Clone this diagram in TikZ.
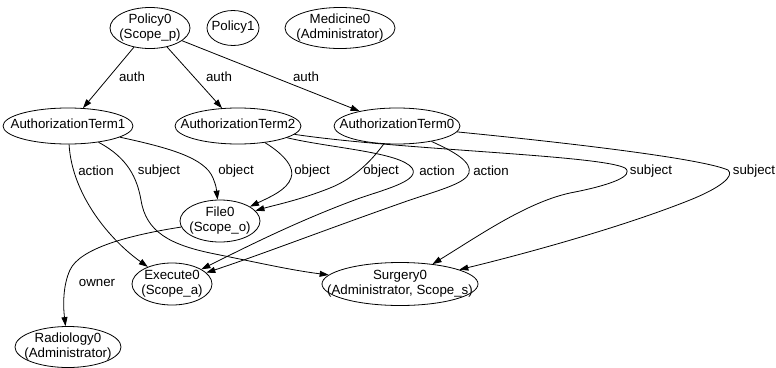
\documentclass[tikz,border=0pt]{standalone}
\usepackage{fontspec}
\setmainfont{Liberation Sans}
\usetikzlibrary{shapes.geometric, arrows.meta}

\newcommand{\ctext}[1]{\makebox[0pt]{\begin{tabular}{@{}c@{}}#1\end{tabular}}}

\tikzset{
	entity/.style={draw, ellipse, inner sep=0pt, line width=0.8pt},
	rel/.style={->, line width=0.8pt},
}

\begin{document}
\begin{tikzpicture}[x=1pt, y=-1pt, font=\fontsize{13.3}{14.5}\selectfont,
		>={Triangle[length=9pt,width=6pt]}]
	\useasboundingbox (0,0) rectangle (776,367);

	\draw
		(150,28) node[entity, minimum width=80pt, minimum height=40pt] (policy0) {\ctext{Policy0\\(Scope\_p)}}
		(233,28) node[entity, minimum width=52pt, minimum height=35pt] (policy1) {\ctext{Policy1}}
		(340,28) node[entity, minimum width=110pt, minimum height=41pt] (medicine0) {\ctext{Medicine0\\(Administrator)}}

		(68,126) node[entity, minimum width=130pt, minimum height=36pt] (term1) {\ctext{AuthorizationTerm1}}
		(238,126) node[entity, minimum width=126pt, minimum height=36pt] (term2) {\ctext{AuthorizationTerm2}}
		(397,126) node[entity, minimum width=126pt, minimum height=36pt] (term0) {\ctext{AuthorizationTerm0}}

		(220,221) node[entity, minimum width=80pt, minimum height=42pt] (file0) {\ctext{File0\\(Scope\_o)}}
		(172,284) node[entity, minimum width=80pt, minimum height=42pt] (execute0) {\ctext{Execute0\\(Scope\_a)}}
		(400,284) node[entity, minimum width=156pt, minimum height=43pt] (surgery0) {\ctext{Surgery0\\(Administrator, Scope\_s)}}
		(68,347) node[entity, minimum width=106pt, minimum height=40pt] (radiology0) {\ctext{Radiology0\\(Administrator)}};

	% auth
	\draw[rel] (policy0) -- (term1);
	\draw[rel] (policy0) -- (term2);
	\draw[rel] (policy0) -- (term0);

	% AuthorizationTerm1
	\draw[rel] (term1) .. controls (72,195) and (110,240) .. (execute0);
	\draw[rel] (term1) .. controls (128,158) and (137,178) .. (141,200)
		.. controls (146,232) and (170,245) .. (215,254)
		.. controls (260,263) and (290,270) .. (surgery0);
	\draw[rel] (term1) .. controls (170,148) and (205,158) .. (213,178)
		.. controls (216,186) .. (file0);

	% AuthorizationTerm2
	\draw[rel] (term2) .. controls (285,155) and (295,168) .. (291,178)
		.. controls (287,190) and (270,197) .. (file0);
	\draw[rel] (term2) .. controls (330,148) and (400,152) .. (412,168)
		.. controls (420,180) and (390,188) .. (360,198)
		.. controls (300,220) and (250,245) .. (execute0);
	\draw[rel] (term2) .. controls (400,150) and (600,155) .. (625,168)
		.. controls (635,176) and (610,185) .. (575,192)
		.. controls (530,200) and (480,235) .. (surgery0);

	% AuthorizationTerm0
	\draw[rel] (term0) .. controls (372,160) and (355,178) .. (330,188)
		.. controls (300,200) and (275,205) .. (file0);
	\draw[rel] (term0) .. controls (455,152) and (472,162) .. (469,173)
		.. controls (466,183) and (440,190) .. (410,200)
		.. controls (330,228) and (260,255) .. (execute0);
	\draw[rel] (term0) .. controls (560,142) and (700,158) .. (728,170)
		.. controls (735,176) and (720,188) .. (690,200)
		.. controls (620,228) and (520,255) .. (surgery0);

	% owner
	\draw[rel] (file0) .. controls (130,235) and (80,248) .. (70,270)
		.. controls (63,285) and (63,305) .. (radiology0);

	\draw
		(132,77) node (auth1) {auth}
		(219,77) node (auth2) {auth}
		(306,77) node (auth0) {auth}
		(96,171) node (action1) {action}
		(159,171) node (subject1) {subject}
		(236,171) node (object1) {object}
		(312,171) node (object2) {object}
		(381,171) node (object0) {object}
		(437,171) node (action2) {action}
		(491,171) node (action0) {action}
		(651,171) node (subject2) {subject}
		(754,171) node (subject0) {subject}
		(97,283) node (owner) {owner};
\end{tikzpicture}
\end{document}
